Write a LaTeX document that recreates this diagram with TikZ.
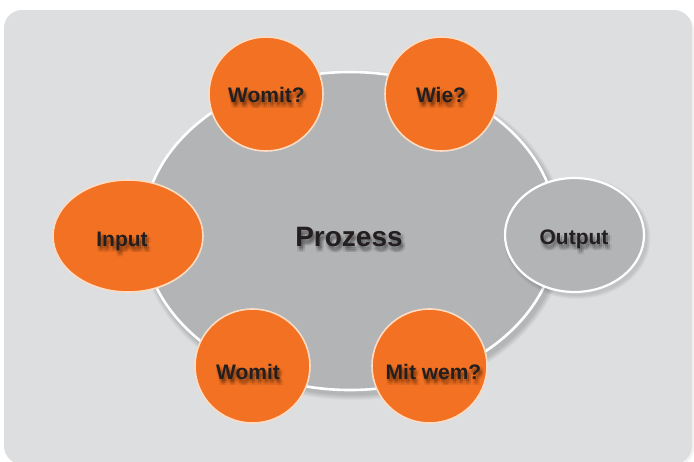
\documentclass[tikz,border=0pt]{standalone}
\usepackage{fontspec}
\setmainfont{Liberation Sans}
\usetikzlibrary{shapes.geometric}
\definecolor{panel}{HTML}{DCDEE0}
\definecolor{core}{HTML}{B3B4B6}
\definecolor{orng}{HTML}{F37122}
\definecolor{peach}{HTML}{FCDCC4}
\definecolor{ink}{HTML}{231F20}
\newcommand\fsmall{\fontsize{21}{25}\selectfont\bfseries}
\newcommand\fbig{\fontsize{28}{32}\selectfont\bfseries}
\tikzset{
  blob/.style={ellipse, inner sep=0pt, outer sep=0pt},
  orangeblob/.style={blob, fill=orng, draw=peach, line width=1.6pt},
  greyblob/.style={blob, fill=core, draw=white, line width=2.2pt},
  lbl/.style={anchor=base, inner sep=0pt, text=ink},
  shadowblob/.style={blob, fill=black, draw=none}
}
\newcommand\lab[4]{%
  \foreach \dx/\dy [count=\k] in {0/2,2/2,4/2,0/4,2/4,4/4,0/6,2/6,4/6,2/3,2/5}{%
    \node[lbl, text=black, text opacity=0.055, font=#3] (#1-sh\k) at ([shift={(\dx,\dy)}]#2) {#4};}
  \node[lbl, font=#3] (#1) at (#2) {#4};}
\begin{document}
\begin{tikzpicture}[x=1pt,y=-1pt]
\useasboundingbox (0,0) rectangle (694,461);
\fill[white] (0,0) rectangle (694,461);
% panel with faint shadow
\fill[black, opacity=0.05, rounded corners=18pt] (6,12) rectangle (694,466);
\fill[panel, rounded corners=18pt] (4,10) rectangle (692,464);
% central process ellipse shadow
\foreach \i in {1,...,6}{
  \node[shadowblob, opacity=0.03, minimum width=414pt+\i*2pt, minimum height=318pt+\i*2pt] (procsh\i) at (353,235) {};}
\node[greyblob, line width=2.6pt, minimum width=414pt, minimum height=318pt] (proc) at (350,231) {};
% output shadow
\foreach \i in {1,...,4}{
  \node[shadowblob, opacity=0.03, minimum width=139pt+\i*2pt, minimum height=114pt+\i*2pt] (outsh\i) at (577,238) {};}
% satellites
\node[orangeblob, minimum width=114pt, minimum height=114pt] (womitq) at (266,94) {};
\node[orangeblob, minimum width=113pt, minimum height=114pt] (wie) at (441.5,94) {};
\node[orangeblob, minimum width=150pt, minimum height=112pt] (input) at (128,236) {};
\node[greyblob, minimum width=139pt, minimum height=114pt] (output) at (574.5,235) {};
\node[orangeblob, minimum width=115pt, minimum height=114pt] (womit) at (252.5,366) {};
\node[orangeblob, minimum width=115pt, minimum height=114pt] (mitwem) at (429.5,366) {};
% labels
\lab{tproc}{349,246}{\fbig}{Prozess}
\lab{twomitq}{266.5,102}{\fsmall}{Womit?}
\lab{twie}{441,102}{\fsmall}{Wie?}
\lab{tinput}{122,246}{\fsmall}{Input}
\lab{toutput}{574,244}{\fsmall}{Output}
\lab{twomit}{248,379}{\fsmall}{Womit}
\lab{tmitwem}{433.5,379}{\fsmall}{Mit wem?}
\end{tikzpicture}
\end{document}
